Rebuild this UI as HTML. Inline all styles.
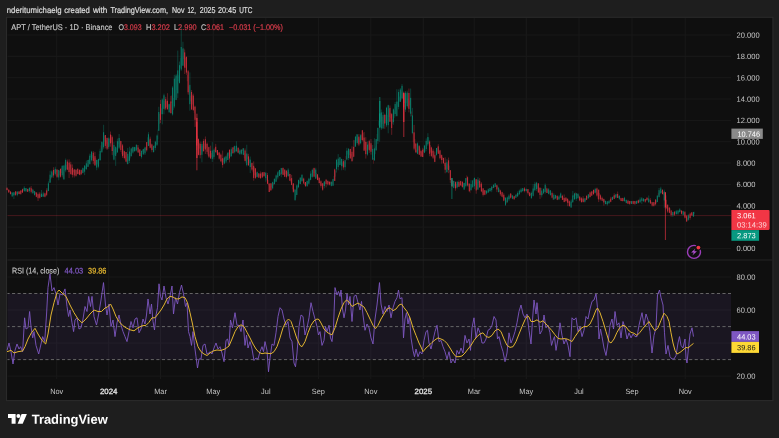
<!DOCTYPE html><html><head><meta charset="utf-8"><title>chart</title><style>

html,body{margin:0;padding:0}
body{width:779px;height:438px;background:#1e1e1e;position:relative;overflow:hidden;font-family:"Liberation Sans",sans-serif;color:#d1d1d1}

</style></head><body>
<svg width="779" height="438" viewBox="0 0 779 438" style="position:absolute;left:0;top:0"><rect x="6.5" y="17.3" width="766.4" height="383.3" fill="#0f0f0f" stroke="#2a2a2a" stroke-width="1.1"/><path d="M56.7 18V379M108.7 18V379M160.5 18V379M213.3 18V379M265.8 18V379M318.4 18V379M370.8 18V379M423.3 18V379M474.2 18V379M526.3 18V379M579.0 18V379M632.0 18V379M685.2 18V379M7.5 35.0H731M7.5 56.3H731M7.5 77.7H731M7.5 99.0H731M7.5 120.4H731M7.5 141.7H731M7.5 163.0H731M7.5 184.4H731M7.5 205.7H731M7.5 227.1H731M7.5 248.4H731M7.5 277.0H731M7.5 310.0H731M7.5 343.1H731M7.5 376.1H731" stroke="#191919" stroke-width="1" fill="none"/><path d="M7.5 260H772" stroke="#242424" stroke-width="1" fill="none"/><rect x="7.5" y="293.5" width="723.5" height="66.1" fill="#7e57c2" fill-opacity="0.10"/><path d="M7.5 293.5H731M7.5 326.6H731M7.5 359.6H731" stroke="#6e6e6e" stroke-width="0.9" stroke-dasharray="3.1 2.45" stroke-dashoffset="1" fill="none"/><path d="M7.5 215.6H731" stroke="#f23645" stroke-opacity="0.3" stroke-width="0.8" fill="none"/><path d="M11.31 191.94V193.62M13.04 193.57V195.29M14.76 192.75V194.93M18.21 191.60V193.81M19.94 192.10V194.16M23.39 188.71V190.07M25.11 187.90V190.33M26.84 188.50V189.70M28.56 188.67V190.80M37.19 194.33V195.73M38.91 195.07V197.23M40.64 195.31V196.38M42.36 194.77V196.84M45.81 194.17V196.42M47.54 188.28V192.37M49.26 178.98V183.01M52.71 173.25V175.80M54.44 169.77V172.95M64.79 163.54V170.75M66.51 164.73V169.08M75.14 169.56V173.52M76.86 170.64V174.55M83.76 168.59V171.44M85.49 166.41V168.88M87.21 164.58V167.03M88.94 158.65V163.04M90.66 153.98V157.36M92.39 154.91V158.21M97.56 160.07V164.51M99.29 154.06V160.29M102.74 142.68V150.36M104.46 135.86V141.36M109.64 138.65V145.77M113.09 147.54V156.54M114.81 149.24V154.75M116.54 148.12V154.21M118.26 141.12V144.19M123.44 149.46V155.09M128.61 156.24V161.07M130.34 152.77V158.49M133.79 147.68V151.13M135.51 147.35V150.63M138.96 150.15V152.90M142.41 149.91V151.84M145.86 146.93V150.10M147.59 137.30V143.16M151.04 143.38V147.93M152.76 147.33V150.11M154.49 144.89V147.95M156.21 142.86V145.54M157.94 129.34V139.42M161.39 108.42V114.36M163.11 100.78V108.74M168.29 104.35V107.57M170.01 104.30V109.52M173.46 97.94V110.02M175.19 77.57V97.46M176.91 74.32V90.13M178.64 75.31V81.34M180.36 57.88V67.85M182.09 57.29V65.44M201.06 145.96V150.83M202.79 145.86V151.49M204.51 143.52V148.63M213.14 155.09V158.02M216.59 150.37V153.58M223.49 158.90V162.25M225.21 156.19V158.87M228.66 151.83V155.85M230.39 152.62V157.05M232.11 151.89V154.14M237.29 150.29V152.64M239.01 151.12V154.01M249.36 158.60V163.16M251.09 163.73V167.11M257.99 174.16V176.66M261.44 173.03V175.85M263.16 173.74V175.52M266.61 177.05V180.46M271.79 184.47V187.12M275.24 179.93V182.60M276.96 175.58V177.77M278.69 170.70V173.20M282.14 169.58V173.23M285.59 170.53V174.18M295.94 193.81V197.43M297.66 184.62V188.88M299.39 181.34V183.40M301.11 177.34V181.40M306.29 182.72V184.70M308.01 182.22V183.58M309.74 178.76V181.58M311.46 173.27V177.02M313.19 169.44V172.93M314.91 168.97V173.13M323.54 182.40V186.09M325.26 182.59V183.87M326.99 180.22V181.77M333.89 175.88V179.91M335.61 171.08V176.63M337.34 162.25V165.29M339.06 161.67V165.31M340.79 161.42V164.43M342.51 162.47V165.95M344.24 162.12V166.88M347.69 150.50V154.45M349.41 150.32V155.12M352.86 156.01V160.34M354.59 140.04V147.21M356.31 134.06V140.92M359.76 138.51V142.47M368.39 143.67V149.47M375.29 146.41V154.16M377.01 133.90V140.74M378.74 120.81V125.61M380.46 113.55V122.36M383.91 120.89V126.01M385.64 114.90V122.85M387.36 115.10V123.21M392.54 119.30V123.74M394.26 110.59V118.15M395.99 106.36V110.42M397.71 101.58V106.85M399.44 96.59V101.54M401.16 91.65V100.25M406.34 93.46V103.22M418.41 145.67V150.45M425.31 149.15V151.73M427.04 143.27V145.74M428.76 137.49V142.88M435.66 154.41V158.38M437.39 147.35V151.72M449.46 165.63V172.27M454.64 184.26V186.36M458.09 181.81V185.37M459.81 183.37V185.58M463.26 183.08V187.27M464.99 182.92V188.20M468.44 183.35V186.76M471.89 184.41V188.53M473.61 178.56V181.05M478.79 180.28V183.21M485.69 190.71V192.50M487.41 191.45V192.81M489.14 189.98V190.98M490.86 188.59V191.02M496.04 185.31V186.63M497.76 186.00V188.22M508.11 197.30V199.37M511.56 194.36V197.03M515.01 196.45V197.52M518.46 193.51V195.36M520.19 190.23V191.52M521.91 189.70V191.70M523.64 189.30V190.30M532.26 191.41V194.22M533.99 186.26V191.79M537.44 185.46V188.51M540.89 192.54V195.32M544.34 189.53V192.12M547.79 190.05V192.86M551.24 192.91V194.45M558.14 197.31V199.53M559.86 194.92V197.49M565.04 199.36V200.55M570.21 203.46V205.50M571.94 199.27V203.05M573.66 194.69V197.14M582.29 198.39V200.97M587.46 197.30V198.52M589.19 195.27V197.42M592.64 191.46V193.01M602.99 198.99V201.64M604.71 199.73V202.19M608.16 201.96V203.00M613.34 196.32V197.55M616.79 193.59V196.28M618.51 195.85V198.09M625.41 200.27V201.52M628.86 200.69V201.69M634.04 201.07V202.32M635.76 202.00V203.16M637.49 200.76V202.49M639.21 200.51V201.52M640.94 199.60V200.87M644.39 199.15V200.61M646.11 198.91V199.98M649.56 199.30V201.54M651.29 201.56V203.27M654.74 203.17V205.03M656.46 200.38V203.07M659.91 191.49V194.77M668.54 207.59V209.72M675.44 211.45V212.55M677.16 212.93V213.93M678.89 210.95V211.95M687.51 218.22V220.69M689.24 216.19V218.06M692.69 214.38V215.93M694.41 211.68V214.25" stroke="#089981" stroke-opacity="0.32" stroke-width="0.7" fill="none"/><path d="M7.86 189.47V190.47M9.59 190.16V191.90M16.49 191.69V193.84M21.66 190.45V192.16M30.29 187.32V188.84M32.01 188.54V190.33M33.74 190.48V192.55M35.46 192.14V194.23M44.09 194.45V197.01M50.99 176.24V179.27M56.16 169.59V172.15M57.89 174.20V177.07M59.61 170.91V175.30M61.34 167.72V172.94M63.06 171.38V178.40M68.24 167.39V172.00M69.96 161.75V169.34M71.69 169.08V175.06M73.41 170.05V172.36M78.59 171.76V174.11M80.31 172.25V175.52M82.04 170.34V172.97M94.11 157.75V163.22M95.84 158.20V163.85M101.01 145.27V148.86M106.19 139.93V143.69M107.91 142.12V148.87M111.36 135.04V142.57M119.99 140.49V146.84M121.71 150.67V154.27M125.16 155.44V158.64M126.89 159.13V163.51M132.06 147.81V151.26M137.24 145.13V148.79M140.69 153.05V156.22M144.14 148.48V152.35M149.31 140.08V145.64M159.66 113.76V123.71M164.84 100.86V109.98M166.56 101.19V107.21M171.74 95.33V103.14M183.81 48.12V59.13M185.54 57.64V67.90M187.26 75.03V81.32M188.99 86.35V94.90M190.71 95.63V101.41M192.44 94.73V104.48M194.16 106.70V112.85M195.89 116.70V126.40M197.61 135.77V142.85M199.34 142.87V148.61M206.24 143.80V148.22M207.96 151.74V155.35M209.69 154.17V157.28M211.41 153.07V157.36M214.86 147.79V151.21M218.31 152.68V154.75M220.04 153.55V157.14M221.76 158.85V162.82M226.94 154.12V157.66M233.84 146.08V148.98M235.56 149.44V151.53M240.74 150.13V152.74M242.46 148.39V150.99M244.19 152.89V158.28M245.91 154.25V162.97M247.64 154.19V159.30M252.81 167.81V172.27M254.54 167.21V175.43M256.26 172.98V177.19M259.71 174.32V176.52M264.89 172.86V175.57M268.34 179.83V185.45M270.06 186.14V190.72M273.51 182.85V185.44M280.41 172.46V175.08M283.86 172.44V175.17M287.31 171.86V175.54M289.04 172.18V176.22M290.76 178.99V182.49M292.49 184.83V189.22M294.21 188.75V191.69M302.84 178.26V180.77M304.56 182.95V185.03M316.64 172.92V177.58M318.36 176.66V180.43M320.09 181.77V184.74M321.81 183.61V185.51M328.71 181.91V183.32M330.44 181.73V184.20M332.16 181.97V183.95M345.96 156.04V160.43M351.14 153.84V156.49M358.04 137.50V142.82M361.49 134.56V139.93M363.21 133.05V140.88M364.94 140.85V149.01M366.66 141.93V150.60M370.11 145.24V148.83M371.84 145.18V149.76M373.56 157.99V163.74M382.19 116.77V123.96M389.09 108.87V117.08M390.81 113.11V118.34M402.89 93.30V98.84M404.61 94.11V102.99M408.06 98.70V107.55M409.79 100.34V105.44M411.51 111.53V116.24M413.24 132.27V142.21M414.96 139.04V146.49M416.69 149.64V152.73M420.14 148.36V153.19M421.86 151.93V155.64M423.59 148.88V151.99M430.49 145.03V152.52M432.21 150.54V152.98M433.94 153.54V155.93M439.11 151.22V154.05M440.84 154.86V157.65M442.56 156.88V159.86M444.29 162.94V166.01M446.01 165.32V169.52M447.74 163.86V169.00M451.19 178.72V184.65M452.91 181.14V185.32M456.36 184.17V188.02M461.54 184.70V186.30M466.71 175.35V180.34M470.16 187.94V193.20M475.34 179.42V184.32M477.06 181.68V189.44M480.51 184.02V186.90M482.24 190.23V192.93M483.96 190.81V194.20M492.59 187.09V188.41M494.31 186.25V187.68M499.49 189.18V191.73M501.21 194.18V195.80M502.94 196.24V197.92M504.66 196.77V199.60M506.39 200.41V203.51M509.84 197.08V199.12M513.29 197.02V198.46M516.74 193.81V196.12M525.36 189.38V190.38M527.09 190.53V192.58M528.81 192.31V194.78M530.54 193.82V195.09M535.71 183.02V186.49M539.16 187.44V192.54M542.61 192.77V194.94M546.06 186.32V189.43M549.51 190.60V193.38M552.96 197.92V199.89M554.69 197.11V198.99M556.41 195.95V197.72M561.59 196.12V198.00M563.31 197.23V199.74M566.76 198.38V200.62M568.49 200.22V203.16M575.39 192.21V195.41M577.11 193.90V195.85M578.84 194.91V197.13M580.56 197.80V200.31M584.01 200.03V201.68M585.74 198.39V200.72M590.91 193.43V195.74M594.36 190.30V192.86M596.09 189.34V191.96M597.81 192.64V198.75M599.54 193.08V195.84M601.26 197.65V199.34M606.44 202.67V204.15M609.89 199.81V201.47M611.61 197.50V199.47M615.06 194.87V197.16M620.24 197.68V199.67M621.96 200.00V201.36M623.69 199.15V201.02M627.14 201.50V203.22M630.59 201.05V202.76M632.31 201.34V202.34M642.66 199.53V201.15M647.84 197.92V198.92M653.01 204.66V205.95M658.19 193.17V195.62M661.64 190.97V192.74M663.36 192.18V194.84M665.09 196.62V201.44M666.81 205.36V208.65M670.26 208.40V210.28M671.99 213.74V214.94M673.71 213.67V214.81M680.61 209.96V211.35M682.34 210.97V212.60M684.06 211.87V213.90M685.79 214.47V218.06M690.96 212.96V214.66" stroke="#f23645" stroke-opacity="0.32" stroke-width="0.7" fill="none"/><path d="M12.18 192.21V196.78M13.90 192.06V199.06M17.35 191.44V196.31M24.25 186.30V191.45M25.98 187.99V192.17M29.43 187.61V192.68M32.88 188.92V193.54M34.60 191.00V195.63M41.50 190.00V197.01M43.22 191.69V196.84M48.40 181.35V191.11M50.12 170.72V183.00M51.85 170.20V177.95M55.30 166.69V175.64M58.75 169.89V180.28M62.20 164.99V176.99M63.92 165.11V179.49M65.65 158.52V172.27M82.90 167.40V173.51M84.62 165.06V175.14M86.35 160.58V169.88M88.07 159.93V167.00M89.80 153.64V164.42M91.52 150.88V161.48M96.70 159.76V170.22M98.42 158.65V168.32M100.15 148.66V160.64M101.87 141.50V152.66M103.60 124.81V148.76M108.77 137.31V148.85M113.95 142.15V160.38M115.67 146.23V165.84M117.40 138.56V152.93M119.12 133.99V149.06M127.75 148.02V164.28M129.47 146.74V163.04M131.20 147.73V156.53M132.92 146.61V153.58M134.65 146.79V151.48M136.37 144.06V151.45M141.55 150.47V158.60M143.27 148.79V154.92M145.00 146.59V155.02M148.45 132.15V146.14M153.63 145.43V152.62M155.35 140.76V150.32M157.08 134.47V145.92M158.80 106.78V131.02M162.25 98.33V124.40M163.98 93.68V114.26M169.15 103.61V112.55M172.60 86.12V115.58M174.33 74.81V108.29M176.05 74.28V100.18M177.78 50.57V97.99M179.50 61.53V83.54M181.23 24.30V70.90M182.95 41.79V65.98M189.85 72.37V110.70M201.93 141.73V162.30M212.28 142.11V162.02M214.00 148.58V159.37M224.35 156.65V164.22M226.08 155.57V163.06M227.80 152.20V160.00M231.25 147.38V157.20M234.70 145.56V153.48M236.43 141.25V151.96M239.88 148.92V154.38M241.60 149.48V154.86M243.33 148.03V155.10M246.78 144.69V166.40M250.23 156.55V173.09M257.13 171.38V177.44M265.75 172.38V181.81M272.65 181.60V189.53M274.38 178.22V184.61M276.10 174.57V181.83M277.83 171.23V179.42M279.55 169.94V176.05M281.28 167.90V177.23M288.18 168.26V176.69M295.08 189.32V200.93M296.80 184.60V195.12M298.53 179.54V187.48M300.25 177.34V184.09M301.98 174.18V181.89M307.15 180.64V187.02M308.88 177.75V184.36M310.60 171.24V180.18M312.33 168.62V177.66M315.78 167.77V178.85M324.40 181.04V188.37M331.30 181.52V186.40M333.03 178.84V186.01M336.48 158.85V172.56M338.20 154.08V170.32M339.93 157.10V165.21M341.65 158.67V170.32M345.10 159.91V170.54M346.83 147.83V160.27M348.55 148.15V160.20M355.45 135.92V146.99M357.18 134.08V144.58M360.63 133.94V144.35M367.53 141.52V155.67M372.70 144.97V159.90M374.43 138.24V160.83M376.15 139.11V151.00M377.88 127.59V143.88M379.60 113.05V141.76M381.33 109.55V130.01M383.05 111.77V129.04M386.50 106.74V127.16M388.23 104.74V133.34M393.40 108.40V124.77M395.13 101.90V116.43M396.85 89.19V116.55M398.58 89.44V109.36M400.30 87.97V101.86M402.03 84.02V98.66M405.48 91.00V111.91M407.20 90.60V107.48M410.65 88.54V116.56M412.38 107.86V134.20M417.55 142.37V154.34M424.45 144.88V153.20M426.18 138.39V151.30M427.90 133.23V145.65M436.53 147.97V155.67M446.88 159.15V172.38M453.78 180.61V188.33M457.23 181.02V188.48M464.13 182.80V189.68M465.85 178.01V187.17M471.03 180.17V190.32M472.75 180.32V188.01M474.48 177.76V189.16M477.93 177.18V190.02M486.55 190.52V194.47M488.28 188.45V192.85M490.00 187.95V191.49M491.73 185.85V192.16M493.45 184.38V188.18M495.18 183.29V187.07M498.63 187.11V192.34M505.53 197.35V206.01M507.25 196.53V202.80M508.98 194.21V200.82M512.43 195.02V199.21M515.88 194.49V198.04M517.60 191.35V196.88M519.33 189.56V194.74M521.05 187.83V192.92M522.78 187.90V191.40M526.23 188.66V191.25M531.40 191.59V199.06M533.13 184.07V196.48M534.85 181.79V190.80M536.58 181.72V191.09M541.75 187.95V197.46M543.48 188.71V193.52M545.20 183.38V193.61M548.65 187.99V194.38M550.38 190.24V195.69M553.83 193.13V200.01M555.55 194.71V198.77M559.00 195.47V199.76M560.73 192.49V198.14M571.08 199.69V208.04M572.80 190.91V202.75M574.53 192.82V199.73M576.25 192.86V200.98M577.98 192.96V198.53M584.88 198.11V202.58M588.33 194.26V198.64M595.23 187.80V193.45M605.57 200.78V204.54M607.30 201.02V205.59M609.02 200.37V203.45M612.47 196.80V199.90M615.92 194.24V198.21M619.37 195.50V199.82M624.55 196.80V201.67M626.27 199.69V203.41M631.45 201.10V204.00M636.62 200.48V204.02M640.07 197.37V202.93M641.80 196.99V203.90M643.52 198.43V201.97M648.70 195.51V202.86M657.32 195.52V202.27M659.05 187.92V197.55M660.77 186.73V193.99M664.22 189.58V208.11M672.85 211.89V217.05M676.30 209.91V214.39M678.02 209.82V214.86M679.75 208.19V212.35M683.20 210.74V215.59M688.37 213.84V220.78M693.55 211.75V216.97" stroke="#089981" stroke-opacity="0.5" stroke-width="0.7" fill="none"/><path d="M7.00 187.50V190.34M8.72 189.51V192.56M10.45 191.03V194.31M15.63 191.26V195.86M19.08 191.23V194.16M20.80 190.41V194.81M22.53 188.59V192.72M27.70 188.67V192.02M31.15 186.11V193.39M36.33 192.26V197.24M38.05 192.50V201.02M39.77 191.93V198.65M44.95 192.66V197.38M46.67 188.21V196.17M53.57 167.22V177.79M57.02 169.07V177.94M60.47 168.63V177.63M67.37 159.56V169.93M69.10 159.39V178.10M70.82 161.75V174.58M72.55 164.43V177.48M74.27 169.33V177.53M76.00 169.52V176.67M77.72 168.61V174.22M79.45 169.22V175.15M81.17 169.42V174.99M93.25 151.06V164.21M94.97 151.87V165.77M105.32 134.98V148.46M107.05 137.58V150.01M110.50 131.54V146.70M112.22 135.62V154.92M120.85 140.94V151.86M122.57 144.00V158.06M124.30 150.75V159.47M126.02 151.98V161.89M138.10 144.98V152.55M139.82 149.29V156.19M146.72 142.06V151.63M150.17 136.68V148.41M151.90 143.71V152.29M160.53 99.86V123.00M165.70 96.83V110.12M167.43 93.21V109.90M170.88 95.88V113.31M184.68 49.48V74.05M186.40 56.27V74.92M188.13 69.91V94.55M191.58 89.95V109.60M193.30 93.62V110.86M195.03 105.68V127.10M196.75 121.67V149.95M198.48 138.45V155.36M200.20 141.57V158.36M203.65 138.86V151.45M205.38 136.47V154.00M207.10 142.39V154.22M208.83 146.70V157.93M210.55 145.67V158.70M215.73 143.83V153.14M217.45 150.04V155.36M219.18 152.11V159.62M220.90 153.60V162.02M222.63 150.62V167.69M229.53 149.58V162.41M232.98 147.35V153.51M238.15 147.38V153.21M245.05 148.43V161.42M248.50 153.77V165.55M251.95 162.64V170.66M253.68 161.38V180.69M255.40 167.93V178.95M258.85 173.18V177.76M260.58 171.48V178.87M262.30 172.06V178.13M264.03 171.90V176.47M267.48 172.93V183.83M269.20 183.40V192.09M270.93 183.01V190.94M283.00 167.41V174.90M284.73 169.32V176.82M286.45 170.42V178.44M289.90 173.89V180.77M291.63 174.82V185.25M293.35 183.27V192.71M303.70 177.67V183.94M305.43 181.97V186.48M314.05 167.57V177.25M317.50 174.28V180.26M319.23 177.47V183.41M320.95 180.32V187.70M322.68 183.24V190.71M326.13 178.90V187.42M327.85 180.63V185.44M329.58 181.42V185.48M334.75 168.62V181.06M343.38 159.10V169.79M350.28 148.74V158.98M352.00 146.36V161.61M353.73 139.90V157.20M358.90 134.06V146.18M362.35 129.95V141.40M364.08 131.93V150.95M365.80 137.13V158.55M369.25 139.81V152.92M370.98 139.01V154.65M384.78 113.67V128.83M389.95 105.48V122.02M391.68 112.87V134.85M403.75 92.93V109.26M408.93 88.53V112.38M414.10 124.89V150.27M415.83 143.01V153.18M419.28 145.10V154.78M421.00 150.04V157.01M422.73 147.74V157.11M429.63 140.36V156.31M431.35 146.65V156.95M433.08 148.72V158.95M434.80 151.52V162.20M438.25 144.18V153.85M439.98 149.81V159.45M441.70 154.51V163.71M443.43 157.66V163.44M445.15 157.35V173.29M448.60 157.52V173.23M450.33 169.98V182.87M452.05 177.93V187.02M455.50 181.33V190.74M458.95 180.36V187.03M460.68 180.76V185.62M462.40 181.56V187.70M467.58 176.39V186.49M469.30 183.24V191.81M476.20 179.15V193.74M479.65 178.19V187.66M481.38 182.14V191.83M483.10 187.96V196.49M484.83 189.97V195.23M496.90 184.54V192.14M500.35 189.71V195.78M502.08 191.79V196.77M503.80 193.23V201.30M510.70 193.30V198.35M514.15 195.79V199.80M524.50 187.19V192.37M527.95 189.04V194.43M529.68 192.09V196.43M538.30 183.29V193.04M540.03 187.17V198.92M546.93 188.39V193.03M552.10 191.48V198.26M557.28 195.15V200.16M562.45 194.78V199.86M564.18 194.47V202.23M565.90 197.12V201.91M567.63 198.25V206.23M569.35 200.40V206.79M579.70 195.93V201.30M581.43 197.06V202.69M583.15 196.22V202.38M586.60 195.07V199.86M590.05 191.55V197.26M591.78 190.93V195.91M593.50 189.37V194.47M596.95 187.60V196.58M598.68 189.62V202.08M600.40 194.35V200.52M602.12 196.60V200.83M603.85 198.59V205.68M610.75 196.77V202.25M614.20 193.27V199.12M617.65 191.53V198.11M621.10 197.86V201.02M622.82 197.71V201.37M628.00 199.82V203.86M629.72 201.10V204.84M633.17 200.80V204.26M634.90 201.10V204.87M638.35 199.59V203.50M645.25 198.86V202.68M646.97 197.51V200.64M650.42 198.15V203.86M652.15 202.11V206.57M653.87 202.02V206.57M655.60 199.17V205.58M662.50 189.33V194.35M665.95 195.37V209.33M667.67 204.58V212.89M669.40 207.27V213.18M671.12 210.29V216.75M674.57 211.27V215.96M681.47 210.31V214.54M684.92 210.94V218.52M686.65 215.02V221.96M690.10 212.61V219.72M691.82 212.22V215.68" stroke="#f23645" stroke-opacity="0.5" stroke-width="0.7" fill="none"/><path d="M12.18 192.61V196.41M13.90 192.26V195.46M17.35 191.58V194.83M24.25 187.80V191.29M25.98 188.17V191.24M29.43 187.72V191.09M32.88 189.80V193.32M34.60 191.18V195.04M41.50 193.66V196.95M43.22 193.39V196.54M48.40 183.39V191.06M50.12 174.69V182.54M51.85 171.45V177.27M55.30 168.83V174.23M58.75 169.93V177.51M62.20 165.99V175.30M63.92 165.60V179.46M65.65 160.02V170.33M82.90 168.10V173.02M84.62 165.64V171.71M86.35 163.33V169.11M88.07 159.96V166.72M89.80 155.69V164.21M91.52 151.74V160.27M96.70 159.92V167.57M98.42 158.97V166.70M100.15 150.90V160.23M101.87 141.82V152.24M103.60 132.26V147.23M108.77 138.31V147.09M113.95 144.94V159.62M115.67 147.10V155.93M117.40 141.25V152.33M119.12 137.94V147.73M127.75 153.86V164.13M129.47 151.52V160.82M131.20 148.58V156.21M132.92 146.95V152.59M134.65 147.06V151.36M136.37 144.95V150.49M141.55 150.94V157.07M143.27 149.06V154.30M145.00 147.55V153.35M148.45 134.29V145.98M153.63 145.98V152.06M155.35 141.78V147.95M157.08 135.59V144.71M158.80 112.00V130.73M162.25 99.55V114.19M163.98 95.31V108.89M169.15 104.20V112.35M172.60 87.54V114.43M174.33 78.67V106.50M176.05 75.60V99.92M177.78 70.42V93.39M179.50 65.16V82.88M181.23 46.96V69.49M182.95 48.54V65.65M189.85 84.85V104.21M201.93 143.98V154.79M212.28 150.52V159.07M214.00 149.79V156.85M224.35 157.60V163.50M226.08 156.59V161.51M227.80 152.89V159.93M231.25 149.23V156.08M234.70 146.12V152.35M236.43 145.72V151.20M239.88 150.46V154.34M241.60 149.61V153.76M243.33 148.31V154.84M246.78 153.46V165.15M250.23 159.66V167.07M257.13 172.13V176.85M265.75 172.63V178.17M272.65 182.18V188.36M274.38 178.92V184.06M276.10 175.44V181.63M277.83 172.43V177.33M279.55 169.96V175.83M281.28 168.08V174.19M288.18 169.67V176.11M295.08 189.65V199.94M296.80 185.49V194.85M298.53 180.11V187.40M300.25 177.69V184.06M301.98 174.89V180.82M307.15 180.87V186.02M308.88 178.71V183.64M310.60 173.66V179.77M312.33 169.91V176.76M315.78 169.60V178.67M324.40 181.49V185.97M331.30 181.75V185.86M333.03 179.23V185.70M336.48 159.91V169.30M338.20 158.61V167.08M339.93 157.34V165.04M341.65 158.97V166.22M345.10 160.31V167.22M346.83 150.70V159.49M348.55 148.80V158.04M355.45 136.78V146.55M357.18 134.48V142.99M360.63 135.23V143.26M367.53 144.66V154.52M372.70 148.91V159.63M374.43 148.41V160.29M376.15 139.14V150.10M377.88 127.93V140.95M379.60 113.64V127.56M381.33 112.40V128.44M383.05 115.11V128.30M386.50 107.76V125.37M388.23 105.26V125.18M393.40 109.31V122.10M395.13 104.04V113.97M396.85 101.62V115.91M398.58 92.05V106.93M400.30 89.46V101.82M402.03 85.84V98.38M405.48 92.71V109.59M407.20 92.61V106.07M410.65 97.84V113.73M412.38 115.43V133.00M417.55 143.42V153.82M424.45 145.64V152.71M426.18 140.90V149.02M427.90 137.03V144.17M436.53 148.01V154.86M446.88 162.37V172.31M453.78 180.97V187.90M457.23 181.88V187.27M464.13 182.89V189.64M465.85 178.14V185.94M471.03 184.13V190.29M472.75 180.45V186.95M474.48 177.82V186.26M477.93 179.66V189.51M486.55 190.61V193.51M488.28 189.27V192.46M490.00 188.05V191.34M491.73 186.71V190.17M493.45 184.80V187.86M495.18 183.32V186.84M498.63 187.81V192.16M505.53 197.72V204.83M507.25 197.40V202.26M508.98 195.62V199.25M512.43 195.54V198.78M515.88 194.70V197.65M517.60 192.94V196.40M519.33 190.76V194.28M521.05 189.44V192.18M522.78 188.12V191.23M526.23 188.86V191.14M531.40 192.99V197.94M533.13 188.49V195.85M534.85 183.89V190.22M536.58 182.62V189.17M541.75 190.59V195.25M543.48 188.76V193.38M545.20 184.85V191.90M548.65 189.24V193.91M550.38 190.29V195.11M553.83 194.78V199.43M555.55 195.14V198.44M559.00 196.54V199.40M560.73 193.51V197.62M571.08 201.55V207.42M572.80 195.45V202.10M574.53 193.44V199.32M576.25 193.25V198.83M577.98 194.04V198.28M584.88 198.39V201.79M588.33 194.29V198.32M595.23 188.89V192.69M605.57 200.85V204.03M607.30 201.36V204.32M609.02 200.86V203.45M612.47 196.84V199.88M615.92 194.27V197.60M619.37 195.69V198.81M624.55 197.76V201.13M626.27 199.82V203.02M631.45 201.15V203.90M636.62 201.07V203.79M640.07 199.43V202.22M641.80 198.22V200.77M643.52 198.50V201.18M648.70 198.59V202.20M657.32 195.55V201.96M659.05 190.13V197.01M660.77 188.52V192.98M664.22 191.47V200.42M672.85 211.93V215.25M676.30 211.28V214.26M678.02 210.55V213.52M679.75 209.41V212.18M683.20 211.22V214.86M688.37 215.30V219.75M693.55 212.03V216.51" stroke="#089981" stroke-opacity="0.8" stroke-width="0.92" fill="none"/><path d="M7.00 187.80V190.00M8.72 189.70V192.51M10.45 191.59V194.21M15.63 191.31V194.93M19.08 191.41V194.11M20.80 190.44V193.87M22.53 189.26V192.64M27.70 189.13V191.78M31.15 188.27V191.85M36.33 192.49V196.81M38.05 194.09V198.19M39.77 193.58V197.82M44.95 193.31V196.63M46.67 190.36V194.85M53.57 169.97V175.41M57.02 169.73V176.73M60.47 168.84V176.73M67.37 161.59V169.71M69.10 162.67V172.17M70.82 164.41V174.07M72.55 167.79V174.77M74.27 169.36V175.45M76.00 169.71V175.81M77.72 168.72V173.93M79.45 170.04V174.77M81.17 170.14V174.17M93.25 152.70V160.84M94.97 156.13V165.36M105.32 135.01V145.88M107.05 137.93V148.63M110.50 134.55V143.33M112.22 137.21V151.01M120.85 141.10V150.09M122.57 145.34V156.20M124.30 151.19V158.05M126.02 152.05V161.62M138.10 147.53V152.51M139.82 149.38V156.09M146.72 142.20V150.32M150.17 138.72V147.69M151.90 144.49V150.10M160.53 103.92V119.89M165.70 99.12V108.46M167.43 100.75V109.15M170.88 101.45V113.23M184.68 52.38V67.65M186.40 56.97V72.58M188.13 71.23V92.27M191.58 91.97V109.56M193.30 95.64V109.94M195.03 106.69V119.79M196.75 122.05V145.51M198.48 139.18V154.87M200.20 143.85V155.18M203.65 140.85V151.24M205.38 139.25V149.54M207.10 143.75V151.87M208.83 147.15V156.57M210.55 150.72V158.49M215.73 146.79V152.00M217.45 150.06V155.12M219.18 152.46V158.67M220.90 154.78V161.21M222.63 158.11V165.07M229.53 149.70V158.54M232.98 147.35V153.16M238.15 147.79V152.60M245.05 150.48V160.83M248.50 156.37V165.41M251.95 162.92V169.51M253.68 165.82V177.95M255.40 168.41V177.92M258.85 173.32V177.75M260.58 173.55V178.14M262.30 172.38V177.31M264.03 172.14V176.33M267.48 175.06V183.77M269.20 183.53V192.04M270.93 183.36V190.15M283.00 167.97V174.79M284.73 169.65V176.77M286.45 170.60V176.93M289.90 173.94V180.74M291.63 178.13V184.92M293.35 183.42V191.82M303.70 178.66V183.40M305.43 182.00V186.35M314.05 168.03V176.63M317.50 174.35V179.88M319.23 177.87V183.00M320.95 181.25V186.00M322.68 183.26V189.72M326.13 179.81V183.90M327.85 180.87V184.37M329.58 181.75V184.67M334.75 169.44V180.88M343.38 161.18V167.54M350.28 148.98V158.30M352.00 151.78V161.20M353.73 146.85V156.67M358.90 136.66V144.50M362.35 130.30V140.04M364.08 137.55V150.58M365.80 141.96V154.18M369.25 141.17V150.32M370.98 143.24V151.79M384.78 114.85V123.59M389.95 107.84V121.70M391.68 114.12V128.06M403.75 93.17V107.39M408.93 93.00V108.90M414.10 132.42V148.66M415.83 143.73V152.27M419.28 146.21V154.77M421.00 151.07V156.49M422.73 149.74V157.03M429.63 141.58V153.75M431.35 147.47V155.92M433.08 150.78V157.69M434.80 155.24V161.85M438.25 146.37V153.68M439.98 150.40V158.21M441.70 155.13V160.01M443.43 157.99V163.37M445.15 162.71V169.82M448.60 160.33V170.05M450.33 170.24V180.02M452.05 179.74V186.53M455.50 182.13V188.42M458.95 181.92V186.76M460.68 181.12V185.39M462.40 181.67V186.86M467.58 177.24V185.44M469.30 183.73V191.24M476.20 179.30V190.44M479.65 180.78V187.43M481.38 183.61V191.41M483.10 188.43V194.98M484.83 190.19V194.75M496.90 185.22V189.50M500.35 190.47V194.25M502.08 192.22V196.72M503.80 194.79V200.63M510.70 193.51V197.66M514.15 196.26V199.24M524.50 188.47V190.94M527.95 189.08V192.95M529.68 192.61V196.06M538.30 183.37V192.36M540.03 187.97V194.91M546.93 188.46V192.95M552.10 193.18V197.67M557.28 196.14V199.75M562.45 195.83V199.85M564.18 198.09V202.07M565.90 197.73V201.06M567.63 198.88V202.74M569.35 201.23V206.04M579.70 196.80V200.43M581.43 198.25V202.09M583.15 198.47V202.10M586.60 195.95V199.82M590.05 192.46V197.11M591.78 191.54V195.58M593.50 190.01V194.25M596.95 188.45V195.56M598.68 189.67V199.44M600.40 195.38V199.33M602.12 197.87V200.78M603.85 199.09V202.48M610.75 198.70V201.75M614.20 195.31V198.87M617.65 194.00V197.92M621.10 198.23V200.99M622.82 197.99V201.12M628.00 200.78V203.77M629.72 201.12V203.92M633.17 201.20V203.92M634.90 201.10V203.82M638.35 200.36V202.90M645.25 199.14V201.73M646.97 197.63V200.23M650.42 200.17V203.46M652.15 202.22V205.55M653.87 202.15V205.75M655.60 199.64V204.26M662.50 189.82V194.12M665.95 199.74V208.19M667.67 204.68V211.54M669.40 207.64V212.71M671.12 210.41V214.95M674.57 211.62V214.67M681.47 210.65V213.79M684.92 212.16V217.61M686.65 216.19V221.44M690.10 213.75V217.90M691.82 212.28V215.47" stroke="#f23645" stroke-opacity="0.8" stroke-width="0.92" fill="none"/><path d="M196.9 113.7V170.3" stroke="#f23645" stroke-opacity="0.8" stroke-width="0.8" fill="none"/><path d="M196.9 118.0V158.0" stroke="#f23645" stroke-opacity="0.9" stroke-width="1.1" fill="none"/><path d="M403.8 91.7V137.0" stroke="#f23645" stroke-opacity="0.8" stroke-width="0.8" fill="none"/><path d="M403.8 93.0V122.0" stroke="#f23645" stroke-opacity="0.9" stroke-width="1.1" fill="none"/><path d="M451.9 178.0V199.0" stroke="#089981" stroke-opacity="0.8" stroke-width="0.8" fill="none"/><path d="M451.9 178.0V186.0" stroke="#089981" stroke-opacity="0.9" stroke-width="1.1" fill="none"/><path d="M665.4 192.0V240.0" stroke="#f23645" stroke-opacity="0.8" stroke-width="0.8" fill="none"/><path d="M665.4 192.5V207.0" stroke="#f23645" stroke-opacity="0.9" stroke-width="1.1" fill="none"/><path d="M379.8 97.0V128.0" stroke="#089981" stroke-opacity="0.8" stroke-width="0.8" fill="none"/><path d="M379.8 101.0V127.0" stroke="#089981" stroke-opacity="0.9" stroke-width="1.1" fill="none"/><path d="M7.0 350.4L9.0 343.0L11.0 351.7L13.0 364.0L15.0 350.4L17.0 344.0L19.0 349.0L20.6 346.7L22.6 351.7L24.6 317.8L26.0 329.0L28.0 327.8L29.6 311.5L31.0 326.6L32.7 337.9L34.0 331.6L36.0 345.4L38.7 354.0L41.0 344.0L42.7 336.6L44.7 341.6L46.5 315.0L48.0 287.6L50.0 273.8L52.0 291.0L54.0 287.6L56.0 293.9L58.0 305.0L60.0 293.9L62.6 295.0L65.0 288.9L67.0 306.5L68.6 316.5L70.0 310.0L72.0 322.8L73.6 331.6L75.0 320.0L77.0 317.8L79.0 329.0L81.0 327.8L83.0 319.0L85.0 306.5L87.0 311.5L88.7 296.4L90.5 306.5L92.0 296.4L94.0 316.5L96.5 325.0L98.7 314.0L101.0 300.0L103.5 282.6L105.5 305.0L107.0 315.0L109.0 304.0L111.0 326.6L113.0 320.0L115.0 336.6L117.0 322.8L119.0 315.0L121.0 325.0L123.0 331.6L125.0 336.6L127.0 341.6L129.0 331.6L131.0 321.5L133.0 327.8L135.0 319.0L137.0 317.8L139.0 332.8L141.0 329.0L143.0 319.0L145.0 324.0L146.5 315.0L148.0 299.0L150.0 314.0L151.5 304.0L153.0 321.5L154.5 330.0L156.0 315.0L157.5 307.7L159.0 283.8L160.5 296.4L162.0 300.0L164.0 286.0L166.0 297.7L168.0 304.0L170.0 296.4L172.0 286.0L173.5 314.0L175.5 297.7L177.5 304.0L179.5 292.6L181.5 285.0L183.5 293.9L185.5 306.5L187.0 302.7L188.5 331.6L190.0 336.6L191.5 345.4L193.0 331.6L194.5 345.4L196.0 356.7L197.5 368.0L199.0 359.0L201.0 359.0L203.0 345.4L205.0 344.0L207.0 354.0L209.0 353.0L210.0 351.7L212.0 354.0L214.0 348.0L216.0 343.0L218.0 349.0L220.0 346.7L222.0 353.0L224.0 361.7L226.0 340.4L227.5 339.0L229.0 345.4L230.5 320.0L232.5 327.8L235.0 312.7L237.0 325.3L239.0 325.3L241.0 331.6L243.0 320.0L245.0 345.4L246.5 335.0L248.0 348.0L250.0 341.6L252.0 349.0L254.0 360.5L256.0 358.0L258.0 359.0L260.0 351.7L262.0 346.7L263.5 351.7L265.0 341.6L267.0 350.4L268.5 371.8L270.0 358.0L272.0 344.0L274.0 345.4L276.0 332.8L278.0 316.5L280.0 307.7L282.0 310.0L284.0 319.0L286.0 325.3L288.0 321.5L290.0 337.9L292.0 341.6L294.0 363.0L295.5 366.8L297.0 353.0L299.0 326.6L301.0 315.0L303.0 316.5L305.0 335.0L307.0 327.8L309.0 317.8L311.0 302.7L313.0 311.5L315.0 319.0L317.0 326.6L318.5 335.0L320.0 331.6L322.0 345.4L324.0 340.4L325.5 326.6L327.0 331.6L329.0 325.3L330.5 337.9L332.0 341.6L333.5 327.8L335.0 287.6L337.0 295.0L338.5 291.4L340.0 296.4L341.0 290.0L342.5 309.0L344.0 317.8L345.5 310.0L347.0 293.9L348.5 305.0L350.0 296.4L352.0 321.5L354.0 296.4L356.0 295.0L358.0 302.7L360.0 310.0L361.5 301.4L363.0 315.0L365.0 330.3L367.0 324.0L369.0 327.8L371.0 337.9L373.0 344.0L375.0 319.0L377.0 305.0L379.5 282.6L381.0 304.0L383.0 314.0L385.0 306.5L387.0 311.5L389.0 305.0L391.0 317.8L393.0 307.7L395.0 301.4L397.0 297.7L398.5 290.0L400.0 298.9L402.0 297.7L403.5 337.9L405.0 319.0L406.5 312.7L408.0 324.0L409.5 316.5L411.0 337.9L413.0 350.4L414.5 356.7L416.0 349.0L418.0 356.7L420.0 351.7L422.0 354.0L424.0 340.4L426.0 331.6L427.5 330.3L429.0 343.0L431.0 349.0L433.0 340.4L435.0 331.6L437.0 325.3L439.0 341.6L441.0 340.4L443.0 346.7L445.0 351.7L447.0 359.0L449.0 351.7L451.0 363.0L453.0 359.0L455.0 363.0L457.0 350.4L459.0 354.0L461.0 348.0L463.0 353.0L465.0 335.4L467.0 343.0L469.0 339.0L470.5 350.4L472.0 327.8L474.0 317.8L476.0 337.9L478.0 327.8L480.0 332.8L482.0 343.0L484.0 343.0L486.0 339.0L488.0 330.3L490.0 329.0L492.0 325.3L494.0 316.5L496.0 320.0L497.5 339.0L499.0 336.6L501.0 345.4L503.0 351.7L505.0 361.7L507.0 353.0L509.0 332.8L511.0 343.0L513.0 337.9L515.0 331.6L517.0 322.8L519.0 311.5L521.0 305.0L523.0 314.0L525.0 317.8L527.0 314.0L529.0 330.3L531.0 344.0L532.5 320.0L534.0 300.0L536.0 314.0L537.0 302.7L538.5 319.0L540.0 334.0L542.0 330.3L544.0 315.0L546.0 327.8L548.0 325.3L550.0 332.8L551.5 345.4L553.0 340.4L554.5 336.6L556.0 350.4L558.0 339.0L560.0 322.8L562.0 335.4L564.0 344.0L566.0 339.0L568.0 345.4L570.0 356.7L572.0 317.8L574.0 320.0L576.0 317.8L578.0 331.6L580.0 326.6L582.0 336.6L584.0 330.3L586.0 316.5L588.0 319.0L590.0 309.0L592.0 301.4L594.0 300.0L596.0 293.9L597.5 307.7L599.0 339.0L600.5 329.0L602.0 336.6L604.0 348.0L606.0 355.5L608.0 343.0L610.0 325.3L612.0 319.0L613.5 329.0L615.0 311.5L617.0 325.3L619.0 322.8L621.0 337.9L623.0 321.5L625.0 327.8L627.0 339.0L629.0 332.8L631.0 337.9L633.0 334.0L635.0 336.6L637.0 336.6L639.0 325.3L640.5 319.0L642.0 312.7L644.0 325.3L646.0 314.0L648.0 320.0L650.0 331.6L652.0 353.0L654.0 335.4L656.0 327.8L657.5 295.0L659.5 290.0L661.0 297.7L663.0 305.0L664.5 332.8L666.0 354.0L668.0 345.4L670.0 356.7L672.0 359.0L674.0 359.0L676.0 355.5L678.0 343.0L679.5 336.6L681.0 345.4L683.0 348.0L685.0 339.0L686.0 358.0L687.0 363.0L688.5 348.0L690.0 334.0L692.0 327.8L693.5 336.6" stroke="#7e57c2" stroke-width="0.9" fill="none" stroke-linejoin="round"/><path d="M7.0 351.7L11.0 350.4L14.0 353.0L18.0 351.7L22.6 351.0L25.0 346.7L28.0 339.0L31.4 332.8L35.0 328.3L38.0 334.0L42.0 340.4L45.7 344.0L48.0 334.0L51.0 315.0L54.0 302.7L57.0 292.6L59.0 290.0L62.0 293.0L66.0 296.4L70.0 305.0L74.0 312.7L78.0 319.0L82.0 322.8L86.0 319.0L90.0 314.0L94.0 310.0L98.0 311.5L101.5 311.5L105.0 308.0L107.5 307.0L110.5 304.0L113.0 309.0L116.0 316.5L119.0 321.5L122.5 325.3L126.0 327.8L130.0 329.8L134.0 330.8L138.0 327.8L142.0 325.8L146.0 325.3L149.0 322.3L152.0 317.8L155.0 317.8L158.0 314.0L161.0 310.0L164.0 305.0L167.0 298.9L170.0 296.4L173.0 297.0L176.0 298.9L179.0 298.9L182.0 296.9L185.0 297.7L187.5 302.7L190.0 312.7L192.5 324.0L195.0 336.6L198.0 346.7L201.0 351.7L204.0 354.0L207.0 355.5L210.0 353.0L213.0 351.0L217.0 350.0L221.0 350.4L225.0 349.0L229.0 346.0L232.0 339.0L235.0 331.6L238.0 326.6L241.0 324.8L244.0 326.6L247.0 332.3L250.0 337.9L253.0 344.0L256.0 349.0L259.0 352.4L262.0 353.7L265.0 353.0L268.0 353.4L271.0 353.7L274.0 351.7L277.0 346.7L280.0 337.9L283.0 327.8L286.0 321.5L288.5 319.0L291.0 321.5L294.0 329.8L297.0 339.0L300.0 345.4L302.0 346.7L305.0 341.6L308.0 332.8L311.0 325.3L314.0 320.8L317.0 319.0L319.0 319.5L321.0 323.0L324.0 329.0L327.0 332.3L330.0 334.0L332.0 334.8L335.0 327.8L338.0 317.8L341.0 309.0L344.0 302.7L346.5 300.0L349.0 302.0L352.0 306.5L355.0 304.7L358.0 303.0L361.0 305.0L364.0 307.0L367.0 312.7L370.0 319.0L373.0 325.3L375.5 328.6L378.0 325.3L381.0 319.0L384.0 314.0L387.0 309.0L390.0 307.7L393.0 310.7L396.0 309.0L399.0 305.0L401.5 304.0L404.0 307.7L407.0 311.5L410.0 317.8L413.0 327.8L416.0 335.4L419.0 343.0L421.0 347.0L423.0 351.7L426.0 348.0L429.0 345.4L432.0 342.4L435.0 339.9L438.0 337.9L441.0 339.0L444.0 340.4L447.0 343.4L450.0 348.0L453.0 353.0L456.0 356.7L459.0 356.7L462.0 356.0L465.0 353.0L468.0 349.0L471.0 345.4L474.0 340.4L477.0 336.6L480.0 334.0L483.0 332.8L486.0 336.6L489.0 337.4L492.0 335.4L495.0 330.8L498.0 329.0L501.0 331.6L504.0 339.0L507.0 345.4L510.0 347.4L513.0 346.7L516.0 341.6L519.0 334.0L522.0 326.6L525.0 319.8L527.5 315.8L529.0 317.0L531.0 321.5L534.0 321.5L537.0 319.8L540.0 322.3L543.0 320.8L546.0 324.0L549.0 327.3L552.0 330.8L555.0 334.8L558.0 338.4L561.0 339.0L564.0 338.6L567.0 339.0L570.0 340.4L572.0 341.6L575.0 336.6L578.0 332.3L581.0 328.3L584.0 326.6L587.0 326.6L590.0 324.0L593.0 317.8L596.0 310.0L597.5 308.0L600.0 312.7L603.0 321.5L606.0 331.6L609.0 341.6L611.0 343.0L614.0 339.0L617.0 332.3L620.0 327.3L623.0 325.3L626.0 326.6L628.0 329.8L631.0 332.3L634.0 333.3L637.0 335.4L640.0 332.3L643.0 328.3L646.0 324.8L649.0 321.5L652.0 326.6L655.0 330.8L658.0 327.8L661.0 320.3L664.0 313.2L667.0 316.5L669.0 321.5L671.0 332.8L673.0 343.0L675.0 350.4L677.0 354.0L680.0 352.4L683.0 350.0L686.0 347.4L688.0 348.0L691.0 345.4L693.5 343.4" stroke="#e2b530" stroke-width="1" fill="none" stroke-linejoin="round"/><g transform="translate(694 251.9)"><circle r="6.5" fill="none" stroke="#9a3db8" stroke-width="1.4"/><path d="M1.5 -3.4L-2.9 0.7H-0.2L-1.6 3.6L2.9 -0.7H0.2Z" fill="#b24fd3"/><circle cx="4.4" cy="-4.3" r="3" fill="#0f0f0f"/><circle cx="4.4" cy="-4.3" r="1.9" fill="#f23645"/></g><g fill="#ffffff"><path d="M8 414H15.6V423.8H11.6V417.9H8Z"/><circle cx="18.4" cy="416" r="2"/><path d="M21.6 414H26.9L22.7 423.8H17.6Z"/></g></svg>
<svg width="779" height="438" viewBox="0 0 779 438" style="position:absolute;left:0;top:0;will-change:transform" font-family="Liberation Sans, sans-serif" text-rendering="geometricPrecision"><text transform="matrix(0.9032 0.0006 0 1 6.80 13.00)" font-size="8.60" fill="#dcdcdc" stroke="#dcdcdc" stroke-width="0.22">nderitumichaelg</text><text transform="matrix(0.8963 0.0006 0 1 64.20 13.00)" font-size="8.60" fill="#dcdcdc" stroke="#dcdcdc" stroke-width="0.22">created</text><text transform="matrix(0.9414 0.0006 0 1 92.90 13.00)" font-size="8.60" fill="#dcdcdc" stroke="#dcdcdc" stroke-width="0.22">with</text><text transform="matrix(0.8492 0.0006 0 1 110.40 13.00)" font-size="8.60" fill="#dcdcdc" stroke="#dcdcdc" stroke-width="0.22">TradingView.com,</text><text transform="matrix(0.8172 0.0006 0 1 172.00 13.00)" font-size="8.60" fill="#dcdcdc" stroke="#dcdcdc" stroke-width="0.22">Nov</text><text transform="matrix(0.6944 0.0006 0 1 187.50 13.00)" font-size="8.60" fill="#dcdcdc" stroke="#dcdcdc" stroke-width="0.22">12,</text><text transform="matrix(0.8261 0.0006 0 1 199.70 13.00)" font-size="8.60" fill="#dcdcdc" stroke="#dcdcdc" stroke-width="0.22">2025</text><text transform="matrix(0.8459 0.0006 0 1 218.00 13.00)" font-size="8.60" fill="#dcdcdc" stroke="#dcdcdc" stroke-width="0.22">20:45</text><text transform="matrix(0.7526 0.0006 0 1 239.20 13.00)" font-size="8.60" fill="#dcdcdc" stroke="#dcdcdc" stroke-width="0.22">UTC</text><text transform="matrix(0.9102 0.0006 0 1 11.30 29.90)" font-size="8.20" fill="#cccccc" stroke="#cccccc" stroke-width="0.12">APT / TetherUS · 1D · Binance</text><text transform="matrix(0.8595 0.0006 0 1 118.50 29.90)" font-size="8.20" fill="#cccccc" stroke="#cccccc" stroke-width="0.12">O<tspan fill="#d63c4b" stroke="#d63c4b" stroke-width="0.2">3.093</tspan></text><text transform="matrix(0.9083 0.0006 0 1 146.00 29.90)" font-size="8.20" fill="#cccccc" stroke="#cccccc" stroke-width="0.12">H<tspan fill="#d63c4b" stroke="#d63c4b" stroke-width="0.2">3.202</tspan></text><text transform="matrix(0.9017 0.0006 0 1 174.00 29.90)" font-size="8.20" fill="#cccccc" stroke="#cccccc" stroke-width="0.12">L<tspan fill="#d63c4b" stroke="#d63c4b" stroke-width="0.2">2.990</tspan></text><text transform="matrix(0.8705 0.0006 0 1 201.00 29.90)" font-size="8.20" fill="#cccccc" stroke="#cccccc" stroke-width="0.12">C<tspan fill="#d63c4b" stroke="#d63c4b" stroke-width="0.2">3.061</tspan></text><text transform="matrix(0.8836 0.0006 0 1 229.00 29.90)" font-size="8.20" fill="#d63c4b" stroke="#d63c4b" stroke-width="0.2">−0.031 (−1.00%)</text><text transform="matrix(0.8734 0.0006 0 1 12.00 273.40)" font-size="8.20" fill="#cccccc" stroke="#cccccc" stroke-width="0.12">RSI (14, close)</text><text transform="matrix(0.9073 0.0006 0 1 64.60 273.40)" font-size="8.20" fill="#7e57c2" stroke="#7e57c2" stroke-width="0.25">44.03</text><text transform="matrix(0.8927 0.0006 0 1 88.10 273.40)" font-size="8.20" fill="#e2b530" stroke="#e2b530" stroke-width="0.25">39.86</text><text transform="matrix(0.9823 0.0006 0 1 736.60 37.70)" font-size="7.70" fill="#c4c4c4">20.000</text><text transform="matrix(0.9823 0.0006 0 1 736.60 59.04)" font-size="7.70" fill="#c4c4c4">18.000</text><text transform="matrix(0.9823 0.0006 0 1 736.60 80.38)" font-size="7.70" fill="#c4c4c4">16.000</text><text transform="matrix(0.9823 0.0006 0 1 736.60 101.72)" font-size="7.70" fill="#c4c4c4">14.000</text><text transform="matrix(0.9823 0.0006 0 1 736.60 123.06)" font-size="7.70" fill="#c4c4c4">12.000</text><text transform="matrix(0.9823 0.0006 0 1 736.60 144.40)" font-size="7.70" fill="#c4c4c4">10.000</text><text transform="matrix(0.9818 0.0006 0 1 736.60 165.74)" font-size="7.70" fill="#c4c4c4">8.000</text><text transform="matrix(0.9818 0.0006 0 1 736.60 187.08)" font-size="7.70" fill="#c4c4c4">6.000</text><text transform="matrix(0.9818 0.0006 0 1 736.60 208.42)" font-size="7.70" fill="#c4c4c4">4.000</text><text transform="matrix(0.9818 0.0006 0 1 736.60 229.76)" font-size="7.70" fill="#c4c4c4">2.000</text><text transform="matrix(0.9818 0.0006 0 1 736.60 251.10)" font-size="7.70" fill="#c4c4c4">0.000</text><text transform="matrix(0.9818 0.0006 0 1 736.60 279.68)" font-size="7.70" fill="#c4c4c4">80.00</text><text transform="matrix(0.9818 0.0006 0 1 736.60 312.72)" font-size="7.70" fill="#c4c4c4">60.00</text><text transform="matrix(0.9818 0.0006 0 1 736.60 378.82)" font-size="7.70" fill="#c4c4c4">20.00</text><text transform="matrix(0.96 0.0006 0 1 56.70 394.00)" font-size="7.70" text-anchor="middle" fill="#c4c4c4">Nov</text><text transform="matrix(1.02 0.0006 0 1 108.70 394.00)" font-size="7.70" text-anchor="middle" fill="#e4e4e4" stroke="#e4e4e4" stroke-width="0.3">2024</text><text transform="matrix(0.96 0.0006 0 1 160.50 394.00)" font-size="7.70" text-anchor="middle" fill="#c4c4c4">Mar</text><text transform="matrix(0.96 0.0006 0 1 213.30 394.00)" font-size="7.70" text-anchor="middle" fill="#c4c4c4">May</text><text transform="matrix(0.96 0.0006 0 1 265.80 394.00)" font-size="7.70" text-anchor="middle" fill="#c4c4c4">Jul</text><text transform="matrix(0.96 0.0006 0 1 318.40 394.00)" font-size="7.70" text-anchor="middle" fill="#c4c4c4">Sep</text><text transform="matrix(0.96 0.0006 0 1 370.80 394.00)" font-size="7.70" text-anchor="middle" fill="#c4c4c4">Nov</text><text transform="matrix(1.02 0.0006 0 1 423.30 394.00)" font-size="7.70" text-anchor="middle" fill="#e4e4e4" stroke="#e4e4e4" stroke-width="0.3">2025</text><text transform="matrix(0.96 0.0006 0 1 474.20 394.00)" font-size="7.70" text-anchor="middle" fill="#c4c4c4">Mar</text><text transform="matrix(0.96 0.0006 0 1 526.30 394.00)" font-size="7.70" text-anchor="middle" fill="#c4c4c4">May</text><text transform="matrix(0.96 0.0006 0 1 579.00 394.00)" font-size="7.70" text-anchor="middle" fill="#c4c4c4">Jul</text><text transform="matrix(0.96 0.0006 0 1 632.00 394.00)" font-size="7.70" text-anchor="middle" fill="#c4c4c4">Sep</text><text transform="matrix(0.96 0.0006 0 1 685.20 394.00)" font-size="7.70" text-anchor="middle" fill="#c4c4c4">Nov</text><text transform="matrix(0.9955 0.0006 0 1 31.70 423.80)" font-size="13.00" fill="#fff" font-weight="bold">TradingView</text><rect x="731.4" y="128.6" width="31.4" height="10.3" fill="#8a8a8a"/><path d="M731.4 210H768.5Q769.6 210 769.6 211.1V228.8Q769.6 229.9 768.5 229.9H731.4Z" fill="#f23645"/><rect x="731.4" y="230.1" width="27.7" height="10.7" fill="#089981"/><rect x="731.4" y="331.1" width="27.6" height="10.8" fill="#7e57c2"/><rect x="731.4" y="341.9" width="27.6" height="11" fill="#fdd835"/><text transform="matrix(0.9611 0.0006 0 1 737.40 136.80)" font-size="7.70" fill="#fff">10.746</text><text transform="matrix(0.9714 0.0006 0 1 737.00 218.20)" font-size="7.70" fill="#fff">3.061</text><text transform="matrix(0.9921 0.0006 0 1 737.00 227.50)" font-size="7.70" fill="#ffd9dc">03:14:39</text><text transform="matrix(0.9766 0.0006 0 1 737.00 238.20)" font-size="7.70" fill="#fff">2.873</text><text transform="matrix(0.9662 0.0006 0 1 737.00 339.60)" font-size="7.70" fill="#fff">44.03</text><text transform="matrix(0.9662 0.0006 0 1 737.00 350.30)" font-size="7.70" fill="#1a1a1a">39.86</text></svg>
</body></html>
